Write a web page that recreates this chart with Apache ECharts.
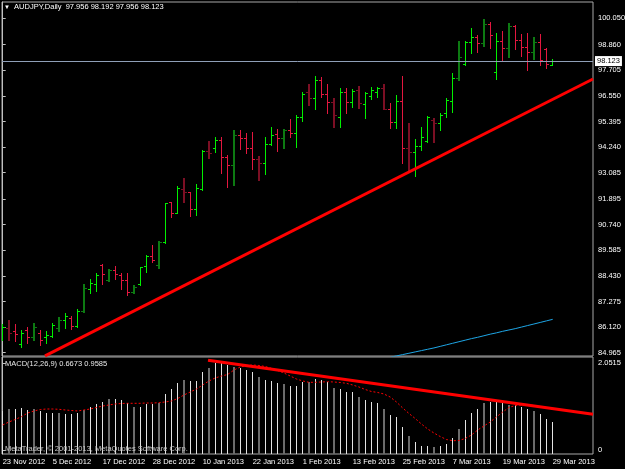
<!DOCTYPE html>
<html>
<head>
<meta charset="utf-8">
<title>AUDJPY Daily</title>
<script src="https://cdn.jsdelivr.net/npm/echarts@6.0.0/dist/echarts.min.js"></script>
<style>
  html, body { margin: 0; padding: 0; background: #000; }
  #main { width: 625px; height: 469px; }
</style>
</head>
<body>
<div id="main"></div>
<script>
// dates shown on the time axis (every 8th bar)
var dateIdx = [0, 8, 16, 24, 32, 40, 48, 56, 64, 72, 80, 88];
var dateLabels = ['23 Nov 2012', '5 Dec 2012', '17 Dec 2012', '28 Dec 2012', '10 Jan 2013', '22 Jan 2013',
                  '1 Feb 2013', '13 Feb 2013', '25 Feb 2013', '7 Mar 2013', '19 Mar 2013', '29 Mar 2013'];

// daily bars, 23 Nov 2012 .. 29 Mar 2013
var opens = [85.72,86.08,85.94,85.36,85.99,85.67,85.85,85.67,85.72,86.08,
             86.44,86.53,86.17,86.85,87.84,88.06,88.92,88.24,88.69,88.47,
             88.24,87.70,88.06,88.87,89.33,88.92,89.96,91.75,91.28,92.33,
             92.20,91.43,92.33,94.08,94.18,94.56,93.78,93.43,94.78,94.66,
             94.18,93.69,93.53,94.36,94.83,94.63,95.01,94.89,95.61,96.71,
             96.44,97.26,96.63,96.26,95.61,96.71,96.29,96.81,96.18,96.54,
             96.74,96.89,95.97,95.36,96.32,94.18,94.03,94.30,94.53,95.46,
             95.31,95.78,96.33,97.34,97.99,98.99,99.22,98.95,99.79,97.64,
             99.04,98.69,99.70,99.07,98.77,98.54,98.99,98.65,97.956];
var highs = [86.26,86.44,86.26,85.99,86.12,86.31,85.99,85.94,86.31,86.58,
             86.76,86.62,86.94,88.06,88.29,88.56,88.97,88.74,88.87,88.56,
             88.56,88.02,88.84,89.37,89.82,90.00,91.72,91.78,92.48,92.84,
             92.23,92.57,94.11,94.53,94.68,94.68,93.88,95.01,95.01,94.86,
             94.94,93.86,94.71,95.13,95.04,95.04,95.49,95.69,96.74,97.08,
             97.44,97.41,97.08,96.47,96.89,96.89,96.84,96.99,96.71,96.93,
             96.96,97.08,96.21,96.59,97.44,95.34,94.59,95.13,95.64,95.54,
             95.79,96.44,97.58,99.04,99.04,99.60,99.29,100.00,99.88,99.38,
             99.49,99.82,99.74,99.34,99.40,99.20,99.34,98.69,98.192];
var lows = [85.54,85.54,85.50,85.22,85.40,85.54,85.31,85.40,85.67,85.94,
            86.08,86.03,86.12,86.80,87.66,87.75,88.06,88.20,88.29,87.84,
            87.57,87.66,88.02,88.62,89.07,88.79,89.91,91.10,91.27,91.78,
            91.13,91.17,92.30,93.76,94.03,93.06,92.45,92.53,94.14,93.96,
            93.27,92.75,93.02,94.33,94.08,94.18,94.71,94.26,95.43,96.14,
            95.94,96.51,95.79,95.16,95.16,95.79,96.06,95.99,95.54,96.39,
            96.48,95.94,95.09,95.11,93.53,93.13,92.94,94.11,94.48,94.48,
            95.01,95.61,95.82,97.26,97.94,98.47,98.54,98.80,98.71,97.31,
            98.17,98.29,98.65,98.33,97.72,98.23,97.96,97.83,97.956];
var closes = [86.12,85.85,85.81,85.85,85.67,86.12,85.54,85.76,86.21,86.44,
              86.62,86.17,86.85,87.88,88.11,88.47,88.51,88.69,88.51,88.24,
              87.70,87.93,88.82,89.33,89.15,89.96,91.70,91.28,92.38,92.20,
              91.43,92.38,94.08,93.96,94.56,93.78,93.43,94.78,94.66,94.18,
              93.69,93.53,94.36,94.77,94.63,95.01,94.89,95.61,96.62,96.44,
              97.26,96.63,96.26,95.69,96.71,96.29,96.78,96.21,96.66,96.81,
              96.89,95.97,95.36,96.33,94.18,94.03,94.30,94.71,95.58,95.31,
              95.67,96.36,97.34,98.29,98.99,99.22,98.95,99.79,99.29,99.04,
              98.69,99.70,99.07,98.77,98.54,98.99,98.17,97.99,98.123];

// moving average (starts below the visible range)
var maStart = 62;
var maValues = [84.76,84.82,84.88,84.94,85.00,85.06,85.12,85.18,85.25,85.32,
                85.39,85.46,85.53,85.60,85.66,85.73,85.80,85.86,85.93,85.99,
                86.05,86.12,86.19,86.26,86.33,86.40,86.47];

// MACD(12,26,9): main (histogram) and signal
var macdMain = [0.923,0.970,0.970,0.987,0.947,0.970,0.923,0.883,0.883,0.868,
                0.852,0.852,0.868,0.947,1.025,1.089,1.143,1.207,1.207,1.183,
                1.119,1.025,1.025,1.089,1.089,1.119,1.325,1.443,1.578,1.656,
                1.633,1.633,1.853,1.947,2.050,2.050,2.011,1.971,1.933,1.893,
                1.853,1.720,1.656,1.633,1.578,1.562,1.514,1.514,1.602,1.602,
                1.680,1.656,1.616,1.474,1.443,1.365,1.365,1.261,1.183,1.143,
                1.105,0.970,0.828,0.774,0.537,0.338,0.182,0.102,0.095,0.078,
                0.102,0.142,0.291,0.497,0.710,0.868,0.970,1.105,1.143,1.129,
                1.119,1.065,1.065,1.025,0.970,0.923,0.845,0.726,0.6673];
var macdSignal = [0.592,0.663,0.722,0.788,0.876,0.923,0.958,0.970,0.970,0.963,
                  0.947,0.935,0.923,0.947,0.970,1.006,1.041,1.065,1.089,1.100,
                  1.105,1.105,1.105,1.112,1.112,1.119,1.136,1.159,1.219,1.301,
                  1.372,1.443,1.538,1.633,1.704,1.751,1.787,1.893,1.964,2.000,
                  2.011,2.000,1.976,1.933,1.881,1.822,1.751,1.680,1.633,1.602,
                  1.602,1.609,1.616,1.609,1.597,1.578,1.538,1.491,1.432,1.384,
                  1.361,1.325,1.254,1.136,0.994,0.864,0.745,0.615,0.497,0.402,
                  0.319,0.248,0.220,0.225,0.272,0.355,0.473,0.568,0.663,0.781,
                  0.899,1.006,1.053,1.065,1.065,1.053,1.029,0.994,0.9585];

// hand-drawn trend lines: [bar index, value]
var priceTrend = [[6.77, 84.82], [94.45, 97.31]];
var macdTrend = [[32.85, 2.123], [94.45, 0.845]];

// axis labels
var priceTicks = [84.965, 86.120, 87.275, 88.430, 89.585, 90.740, 91.895,
                  93.085, 94.240, 95.395, 96.550, 97.705, 98.860, 100.050];
var macdTicks = [0, 2.0515];
var macdTickLabels = ['0', '2.0515'];
var lastPrice = 98.123;

var FONT = '"Liberation Sans", Arial, sans-serif';
var FS = 7.5;
var xMin = -0.112, xMax = 94.448;

var barData = opens.map(function (o, i) {
  return [i, o, highs[i], lows[i], closes[i]];
});
var maData = maValues.map(function (v, k) { return [maStart + k, v]; });
var histData = macdMain.map(function (v, i) { return [i, v]; });
var sigData = macdSignal.map(function (v, i) { return [i, v]; });

function renderBar(params, api) {
  var i = api.value(0);
  var o = api.coord([i, api.value(1)]);
  var h = api.coord([i, api.value(2)]);
  var l = api.coord([i, api.value(3)]);
  var c = api.coord([i, api.value(4)]);
  var up = api.value(4) >= api.value(1);
  var dark = i % 4 === 1;
  var color = up ? (dark ? '#0d7a12' : '#00f000') : (dark ? '#7c0f24' : '#e3173f');
  var w = dark ? 2 : 1;
  var x = dark ? Math.round(h[0]) : Math.floor(h[0]) + 0.5;
  var yo = Math.round(o[1]) + 0.5, yc = Math.round(c[1]) + 0.5;
  var st = { stroke: color, lineWidth: w };
  var st1 = { stroke: color, lineWidth: 1 };
  return {
    type: 'group',
    children: [
      { type: 'line', shape: { x1: x, y1: Math.round(h[1]), x2: x, y2: Math.round(l[1]) + 1 }, style: st },
      { type: 'line', shape: { x1: x - w / 2 - 2, y1: yo, x2: x, y2: yo }, style: st1 },
      { type: 'line', shape: { x1: x, y1: yc, x2: x + w / 2 + 2, y2: yc }, style: st1 }
    ]
  };
}

function renderHist(params, api) {
  var i = api.value(0);
  var top = api.coord([i, api.value(1)]);
  var cs = params.coordSys;
  var dark = i % 4 === 1;
  var x = dark ? Math.round(top[0]) : Math.floor(top[0]) + 0.5;
  return {
    type: 'line',
    shape: { x1: x, y1: Math.round(top[1]), x2: x, y2: cs.y + cs.height },
    style: { stroke: dark ? '#6b6b6b' : '#e4e4e4', lineWidth: dark ? 2 : 1 }
  };
}

var chart = echarts.init(document.getElementById('main'));
var option = {
  backgroundColor: '#000000',
  animation: false,
  textStyle: { fontFamily: FONT },
  title: [
    {
      left: 4, top: 3, padding: 0,
      text: '{t|▼}  AUDJPY,Daily  97.956 98.192 97.956 98.123',
      textStyle: { color: '#ffffff', fontSize: FS, fontWeight: 'normal', fontFamily: FONT,
                   rich: { t: { fontSize: 6, color: '#ffffff' } } }
    },
    {
      left: 5, top: 360, padding: 0,
      text: 'MACD(12,26,9) 0.6673 0.9585',
      textStyle: { color: '#e8e8e8', fontSize: FS, fontWeight: 'normal', fontFamily: FONT }
    },
    {
      left: 5, top: 445, padding: 0,
      text: 'MetaTrader, © 2001-2013, MetaQuotes Software Corp.',
      textStyle: { color: '#c8c8c8', fontSize: FS, fontWeight: 'normal', fontFamily: FONT }
    }
  ],
  grid: [
    { left: 2, top: 2, width: 591, height: 354, show: true, borderColor: '#a8a8a8', borderWidth: 1,
      containLabel: false, outerBoundsMode: 'none' },
    { left: 2, top: 357, width: 591, height: 97, show: true, borderColor: '#a8a8a8', borderWidth: 1,
      containLabel: false, outerBoundsMode: 'none' }
  ],
  xAxis: [
    { type: 'value', gridIndex: 0, min: xMin, max: xMax, show: false },
    {
      type: 'value', gridIndex: 1, min: xMin, max: xMax,
      splitLine: { show: false },
      axisLine: { show: false },
      axisTick: { show: true, customValues: dateIdx, length: 3, lineStyle: { color: '#c0c0c0' } },
      axisLabel: {
        customValues: dateIdx, align: 'left', margin: 4, showMinLabel: true, hideOverlap: false,
        color: '#ffffff', fontSize: FS, fontFamily: FONT,
        formatter: function (v) { return dateLabels[dateIdx.indexOf(v)]; }
      }
    }
  ],
  yAxis: [
    {
      type: 'value', gridIndex: 0, position: 'right', min: 84.816, max: 100.785,
      splitLine: { show: false },
      axisLine: { show: true, lineStyle: { color: '#c0c0c0' } },
      axisTick: { show: true, customValues: priceTicks, length: 3, lineStyle: { color: '#c0c0c0' } },
      axisLabel: {
        customValues: priceTicks, margin: 5, color: '#ffffff', fontSize: FS, fontFamily: FONT,
        formatter: function (v) { return v.toFixed(3); }
      }
    },
    {
      type: 'value', gridIndex: 1, position: 'right', min: -0.0947, max: 2.2006,
      splitLine: { show: false },
      axisLine: { show: true, lineStyle: { color: '#c0c0c0' } },
      axisTick: { show: true, customValues: macdTicks, length: 3, lineStyle: { color: '#c0c0c0' } },
      axisLabel: {
        customValues: macdTicks, margin: 5, color: '#ffffff', fontSize: FS, fontFamily: FONT,
        formatter: function (v) { return macdTickLabels[macdTicks.indexOf(v)]; }
      }
    }
  ],
  series: [
    {
      name: 'MA', type: 'line', xAxisIndex: 0, yAxisIndex: 0, data: maData,
      symbol: 'none', clip: true, silent: true,
      lineStyle: { color: '#1ea6e6', width: 1 }
    },
    {
      name: 'AUDJPY', type: 'custom', xAxisIndex: 0, yAxisIndex: 0, data: barData,
      renderItem: renderBar, clip: true, silent: true,
      encode: { x: 0, y: [1, 2, 3, 4] }
    },
    {
      name: 'trend', type: 'line', xAxisIndex: 0, yAxisIndex: 0, data: priceTrend,
      symbol: 'none', clip: true, silent: true,
      lineStyle: { color: '#ff0000', width: 3 },
      markLine: {
        silent: true, symbol: 'none', animation: false,
        data: [{ yAxis: lastPrice }],
        lineStyle: { color: '#8f9fb8', width: 1, type: 'solid' },
        label: {
          position: 'end', distance: 2, formatter: lastPrice.toFixed(3),
          backgroundColor: '#ffffff', color: '#000000', padding: [1, 2, 1, 2],
          fontSize: FS, fontFamily: FONT
        }
      }
    },
    {
      name: 'MACD', type: 'custom', xAxisIndex: 1, yAxisIndex: 1, data: histData,
      renderItem: renderHist, clip: true, silent: true,
      encode: { x: 0, y: 1 }
    },
    {
      name: 'Signal', type: 'line', xAxisIndex: 1, yAxisIndex: 1, data: sigData,
      symbol: 'none', silent: true,
      lineStyle: { color: '#ff0000', width: 1, type: [2, 2] }
    },
    {
      name: 'macdTrend', type: 'line', xAxisIndex: 1, yAxisIndex: 1, data: macdTrend,
      symbol: 'none', clip: true, silent: true,
      lineStyle: { color: '#ff0000', width: 3 }
    }
  ]
};
chart.setOption(option);
</script>
</body>
</html>
